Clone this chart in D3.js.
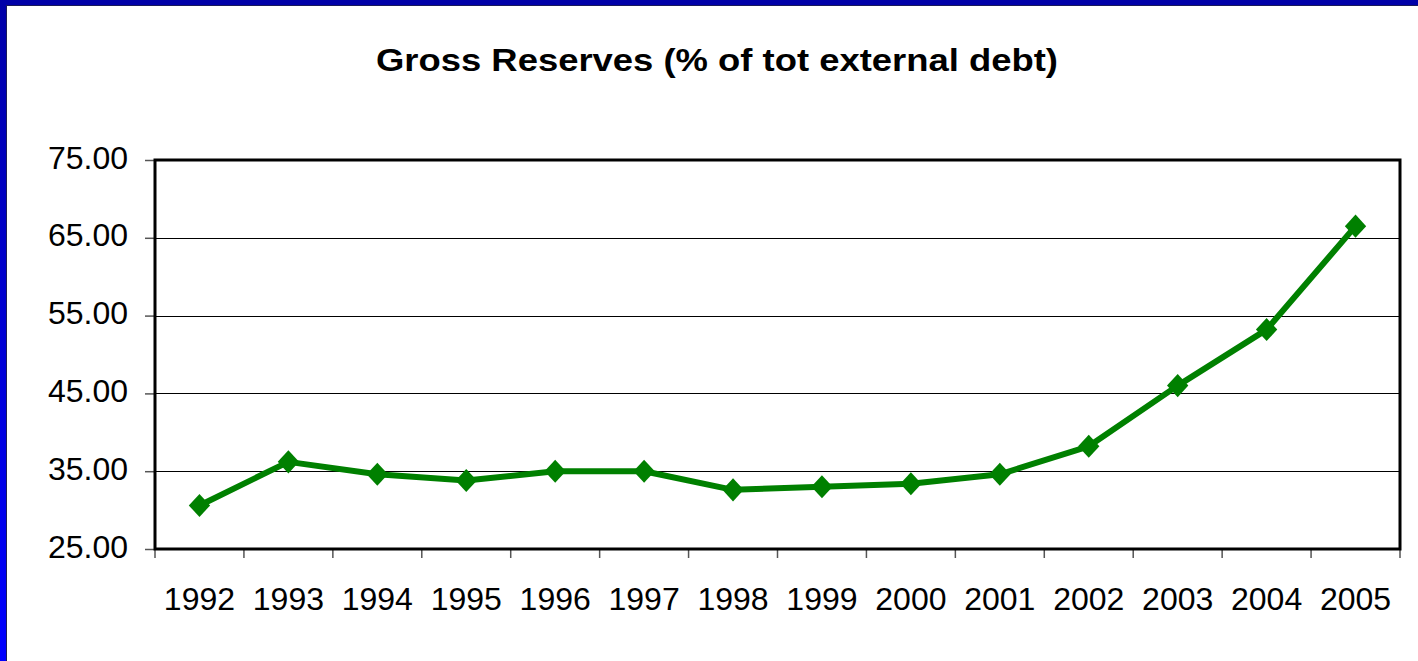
<!DOCTYPE html>
<html>
<head>
<meta charset="utf-8">
<script src="https://cdn.jsdelivr.net/npm/d3@7/dist/d3.min.js"></script>
<style>
  html, body { margin: 0; padding: 0; background: #ffffff; }
  svg { display: block; }
</style>
</head>
<body>
<svg id="chart" width="1418" height="661"></svg>
<script>
// Gross reserves as a share of total external debt, by year
const years = ["1992","1993","1994","1995","1996","1997","1998","1999","2000","2001","2002","2003","2004","2005"];
const reserves = [30.6, 36.2, 34.6, 33.8, 35.0, 35.0, 32.6, 33.0, 33.4, 34.6, 38.2, 46.0, 53.2, 66.5];
const yTicks = [25, 35, 45, 55, 65, 75];
const titleText = "Gross Reserves (% of tot external debt)";

const W = 1418, H = 661;
const plot = { left: 155, right: 1400, top: 160, bottom: 549 };

const svg = d3.select("#chart");

// slide frame: blue strips on the top and left edges
const defs = svg.append("defs");
const grad = defs.append("linearGradient").attr("id", "frameBlue")
  .attr("x1", 0).attr("y1", 0).attr("x2", 0).attr("y2", 1);
grad.append("stop").attr("offset", "0%").attr("stop-color", "#0000a8");
grad.append("stop").attr("offset", "100%").attr("stop-color", "#0000ff");

svg.append("rect").attr("x", 0).attr("y", 0).attr("width", W).attr("height", 5).attr("fill", "#0000a8");
svg.append("rect").attr("x", 0).attr("y", 0).attr("width", 6).attr("height", H).attr("fill", "url(#frameBlue)");
svg.append("line").attr("x1", 6).attr("x2", W).attr("y1", 5.5).attr("y2", 5.5)
  .attr("stroke", "#1a1a5a").attr("stroke-width", 1);
svg.append("line").attr("x1", 6.5).attr("x2", 6.5).attr("y1", 5).attr("y2", H)
  .attr("stroke", "#1a1a5a").attr("stroke-width", 1);

// scales
const x = d3.scaleBand().domain(years).range([plot.left, plot.right]).padding(0);
const y = d3.scaleLinear().domain([25, 75]).range([plot.bottom, plot.top]);

// title
svg.append("text")
  .attr("x", 717).attr("y", 71)
  .attr("text-anchor", "middle")
  .attr("font-family", "Liberation Sans, Arial, sans-serif")
  .attr("font-weight", "bold")
  .attr("font-size", 31)
  .attr("textLength", 682)
  .attr("lengthAdjust", "spacingAndGlyphs")
  .attr("fill", "#000")
  .text(titleText);

// horizontal gridlines
svg.append("g").selectAll("line").data(yTicks.slice(1, -1)).join("line")
  .attr("x1", plot.left).attr("x2", plot.right)
  .attr("y1", d => Math.round(y(d)) + 0.5).attr("y2", d => Math.round(y(d)) + 0.5)
  .attr("stroke", "#000").attr("stroke-width", 1);

// y axis
const yAxis = svg.append("g")
  .attr("transform", `translate(${plot.left},0)`)
  .call(d3.axisLeft(y).tickValues(yTicks).tickFormat(d3.format(".2f")).tickSize(10).tickPadding(17));
yAxis.select(".domain").remove();
yAxis.selectAll(".tick line").attr("stroke", "#555").attr("stroke-width", 1.5);
yAxis.selectAll(".tick text")
  .attr("font-family", "Liberation Sans, Arial, sans-serif")
  .attr("font-size", 32).attr("fill", "#000").attr("dy", "0.25em");

// x axis: ticks between categories
const bounds = years.map(d => x(d)).concat([plot.right]);
svg.append("g").selectAll("line").data(bounds).join("line")
  .attr("x1", d => d).attr("x2", d => d)
  .attr("y1", plot.bottom).attr("y2", plot.bottom + 9)
  .attr("stroke", "#555").attr("stroke-width", 1.5);
svg.append("g").selectAll("text").data(years).join("text")
  .attr("x", d => x(d) + x.bandwidth() / 2)
  .attr("y", 610)
  .attr("text-anchor", "middle")
  .attr("font-family", "Liberation Sans, Arial, sans-serif")
  .attr("font-size", 32).attr("fill", "#000")
  .text(d => d);

// plot frame
svg.append("rect")
  .attr("x", plot.left).attr("y", plot.top)
  .attr("width", plot.right - plot.left).attr("height", plot.bottom - plot.top)
  .attr("fill", "none").attr("stroke", "#000").attr("stroke-width", 3);

// series line
const cx = d => x(d) + x.bandwidth() / 2;
const line = d3.line().x((d, i) => cx(years[i])).y(d => y(d));
svg.append("path").datum(reserves)
  .attr("d", line)
  .attr("fill", "none").attr("stroke", "#008000").attr("stroke-width", 6)
  .attr("stroke-linejoin", "round");

// diamond markers
const diamond = d3.symbol().type(d3.symbolDiamond2).size(290);
svg.append("g").selectAll("path").data(reserves).join("path")
  .attr("transform", (d, i) => `translate(${cx(years[i])},${y(d)}) scale(1,1.08)`)
  .attr("d", diamond)
  .attr("fill", "#008000");
</script>
</body>
</html>
